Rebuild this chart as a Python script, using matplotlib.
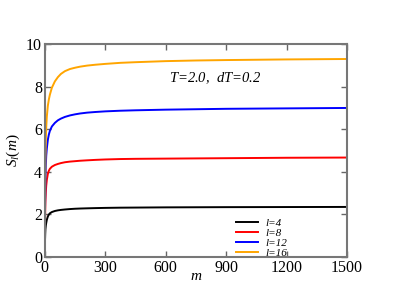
import matplotlib.pyplot as plt

plt.rcParams['font.family'] = ['Liberation Serif', 'DejaVu Serif']
plt.rcParams['mathtext.fontset'] = 'custom'
plt.rcParams['mathtext.it'] = 'Liberation Serif:italic'
plt.rcParams['mathtext.rm'] = 'Liberation Serif'

# values (m, S_l(m))
m = [0, 1, 2, 3, 5, 7, 10, 15, 20, 25, 35, 50, 65, 80, 100, 125, 150, 175,
     210, 250, 300, 375, 450, 600, 750, 900, 1200, 1500]
s_l4 = [0.0, 0.8, 1.1, 1.3, 1.48, 1.6, 1.75, 1.9, 1.99, 2.05, 2.11, 2.16, 2.19,
        2.21, 2.23, 2.25, 2.265, 2.275, 2.285, 2.295, 2.305, 2.315, 2.32, 2.33,
        2.335, 2.34, 2.345, 2.35]
s_l8 = [0.0, 1.6, 2.2, 2.6, 3.05, 3.35, 3.62, 3.9, 4.05, 4.14, 4.24, 4.32, 4.37,
        4.41, 4.45, 4.48, 4.5, 4.52, 4.54, 4.56, 4.58, 4.6, 4.61, 4.62, 4.63,
        4.64, 4.66, 4.67]
s_l12 = [0.0, 2.2, 3.0, 3.6, 4.3, 4.75, 5.1, 5.5, 5.75, 5.92, 6.13, 6.3, 6.42,
         6.5, 6.58, 6.65, 6.7, 6.74, 6.78, 6.81, 6.84, 6.87, 6.89, 6.92, 6.94,
         6.96, 6.98, 7.0]
s_l16 = [0.0, 2.8, 3.8, 4.6, 5.5, 6.1, 6.6, 7.1, 7.4, 7.62, 7.95, 8.25, 8.45,
         8.6, 8.73, 8.83, 8.89, 8.94, 8.99, 9.03, 9.07, 9.12, 9.15, 9.2, 9.23,
         9.25, 9.28, 9.3]

labels = ['l=4', 'l=8', 'l=12', 'l=16']
colors = ['black', 'red', 'blue', 'orange']

fig = plt.figure(figsize=(4.15, 2.94), dpi=100)
ax = fig.add_axes([0.108, 0.126, 0.728, 0.724])

for ys, lab, c in zip([s_l4, s_l8, s_l12, s_l16], labels, colors):
    ax.plot(m, ys, color=c, lw=1.4, label=lab)

ax.set_xlim(0, 1500)
ax.set_ylim(0, 10)
ax.set_xticks([0, 300, 600, 900, 1200, 1500])
ax.set_yticks([0, 2, 4, 6, 8, 10])
ax.tick_params(direction='in', top=True, right=True, length=4, width=1,
               color='#666666', labelsize=11.5, pad=2)
ax.tick_params(axis='x', pad=2)
for sp in ax.spines.values():
    sp.set_color('#777777')
    sp.set_linewidth(1.5)

ax.set_xlabel('$m$', fontsize=11, labelpad=-4)
ax.set_ylabel('$S_l(m)$', fontsize=11, labelpad=3)
ax.text(0.41, 0.82, '$T$=2.0,  $dT$=0.2', transform=ax.transAxes, fontsize=10.5,
        style='italic')

ax.legend(loc='lower left', bbox_to_anchor=(0.6, -0.05), frameon=False,
          prop={'style': 'italic', 'size': 8}, handlelength=2.0,
          labelspacing=0.0, handletextpad=0.6)

fig.savefig('out.png', dpi=100)
